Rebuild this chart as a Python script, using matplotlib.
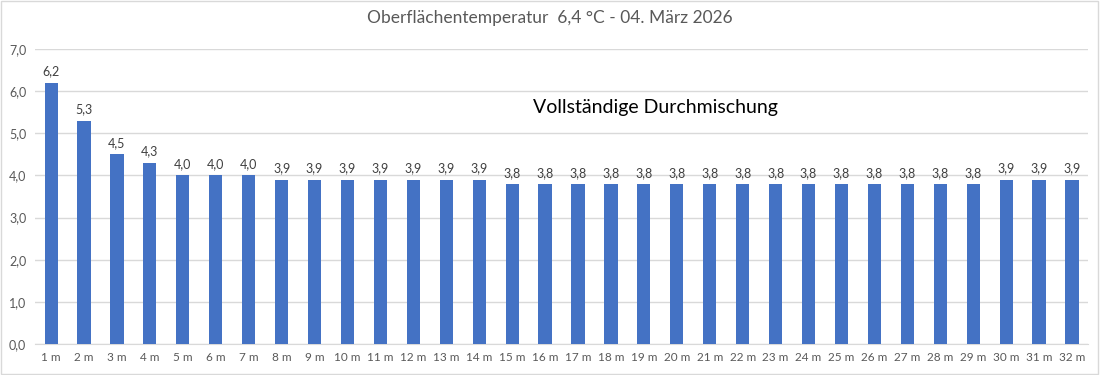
import matplotlib
matplotlib.use("Agg")
import matplotlib.pyplot as plt
from matplotlib.patches import Rectangle

categories = [f"{i} m" for i in range(1, 33)]
values = [6.2, 5.3, 4.5, 4.3, 4.0, 4.0, 4.0,
          3.9, 3.9, 3.9, 3.9, 3.9, 3.9, 3.9,
          3.8, 3.8, 3.8, 3.8, 3.8, 3.8, 3.8, 3.8, 3.8, 3.8, 3.8, 3.8, 3.8, 3.8, 3.8,
          3.9, 3.9, 3.9]
yticks = [0, 1, 2, 3, 4, 5, 6, 7]
title = "Oberflächentemperatur  6,4 °C - 04. März 2026"
note = "Vollständige Durchmischung"

plt.rcParams['font.family'] = ['Lato', 'DejaVu Sans']

fig = plt.figure(figsize=(11, 3.75), dpi=100)
ax = fig.add_axes([0.0315, 0.0827, 0.958, 0.787])

x = list(range(len(categories)))
ax.bar(x, values, width=0.4, color="#4472C4", zorder=3)
for xi, v in zip(x, values):
    ax.text(xi, v + 0.12, f"{v:.1f}".replace(".", ","), ha="center", va="bottom",
            fontsize=9, color="#404040")

ax.set_xlim(-0.5, len(categories) - 0.5)
ax.set_ylim(0, 7)
ax.set_yticks(yticks)
ax.set_yticklabels([f"{t:.1f}".replace(".", ",") for t in yticks], fontsize=9, color="#595959")
ax.set_xticks(x)
ax.set_xticklabels(categories, fontsize=8.5, color="#595959")
ax.tick_params(axis="both", length=0, pad=6)
ax.grid(axis="y", color="#D9D9D9", linewidth=1, zorder=0)
for s in ["top", "right", "left"]:
    ax.spines[s].set_visible(False)
ax.spines["bottom"].set_color("#D9D9D9")

fig.text(0.5, 0.952, title, ha="center", va="center", fontsize=12.5, color="#595959")
ax.text(0.473, 0.803, note, transform=ax.transAxes, ha="left", va="center",
        fontsize=14, color="black")

fig.patches.append(Rectangle((0.001, 0.002), 0.997, 0.995, transform=fig.transFigure,
                             fill=False, edgecolor="#D9D9D9", linewidth=1))

fig.savefig("out.png", dpi=100)
